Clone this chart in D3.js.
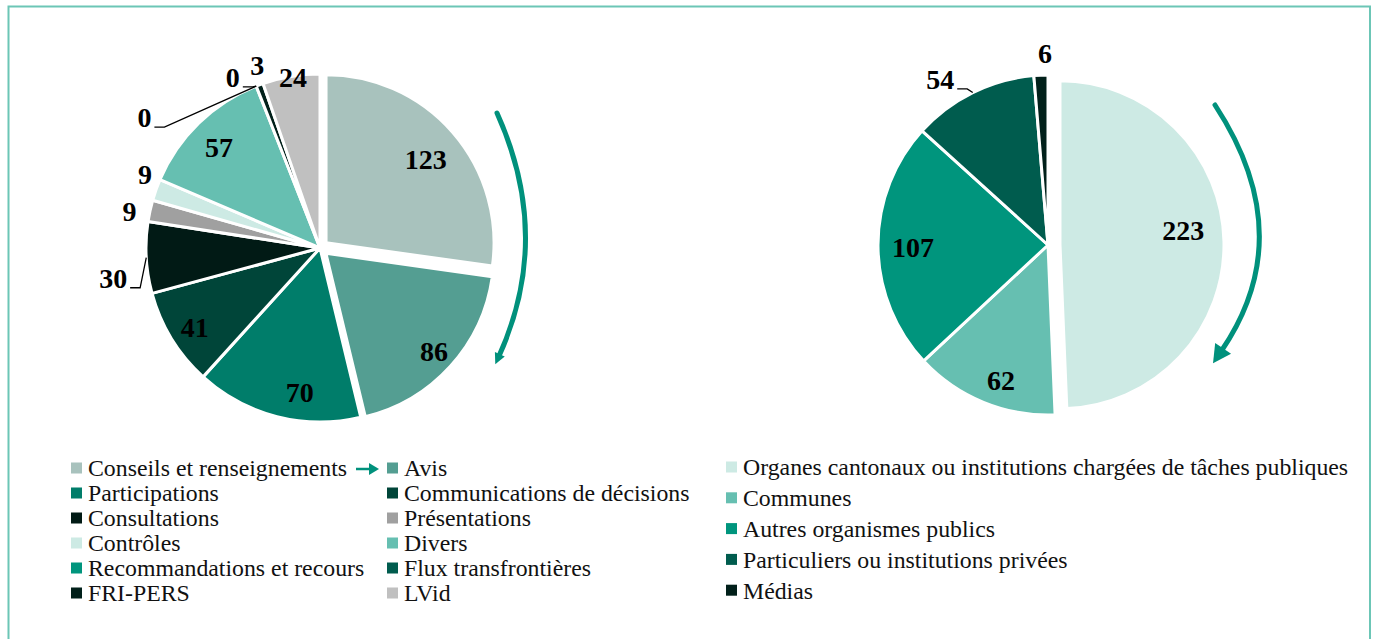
<!DOCTYPE html>
<html><head><meta charset="utf-8">
<script src="https://cdn.jsdelivr.net/npm/d3@7"></script>
<style>body{margin:0;background:#fff}svg{display:block}</style>
</head><body><svg id="c" width="1375" height="639"></svg>
<script>
// ---------- data ----------
const leftCategories = ["Conseils et renseignements","Avis","Participations","Communications de décisions","Consultations","Présentations","Contrôles","Divers","Recommandations et recours","Flux transfrontières","FRI-PERS","LVid"];
const leftValues = [123,86,70,41,30,9,9,57,0,0,3,24];
const leftColors = ["#a8c2bd","#549e92","#007d6a","#004539","#011a15","#a0a0a0","#cdeae4","#66bfb1","#00957d","#005c4e","#01201a","#c0c0c0"];

const rightCategories = ["Organes cantonaux ou institutions chargées de tâches publiques","Communes","Autres organismes publics","Particuliers ou institutions privées","Médias"];
const rightValues = [223,62,107,54,6];
const rightColors = ["#cdeae4","#66bfb1","#00957d","#005c4e","#01201a"];

// ---------- layout config ----------
const leftLabelPlace = [[1,138],[0,154],[-6.4,146],[-0.8,148],[-5,209],[-1.4,194],[3.4,190],[-0.8,143],[-31.8,219],[-5.5,192],[1.3,193],[0.6,173]];
const leftLeaders = [4,8,9];
const leftExplode = [8,8,0,0,0,0,0,0,0,0,0,0];
const rightLabelPlace = [[-5.1,136],[-3.1,143],[-0.4,135],[-6.7,198],[1.5,192]];
const rightLeaders = [3];
const rightExplode = [12,0,0,0,0];

const svg = d3.select("#c");
const serif = "'Times New Roman','Liberation Serif',serif";
const teal = "#00917c";

svg.append("rect").attr("x",8.5).attr("y",6.5).attr("width",1361.5).attr("height",700)
  .attr("fill","none").attr("stroke","#6cc6b6").attr("stroke-width",2);

function drawPie(cx, cy, r, rEx, values, colors, explode, place, leaders){
  const g = svg.append("g");
  const arcs = d3.pie().sort(null).value(d=>d)(values);
  const arc = d3.arc().innerRadius(0);
  arcs.forEach((d,i)=>{
    if (d.value === 0) return;
    const mid = (d.startAngle+d.endAngle)/2;
    const ex = explode[i];
    const ox = Math.sin(mid)*ex, oy = -Math.cos(mid)*ex;
    g.append("path").attr("d", arc.outerRadius(ex ? rEx : r)(d))
      .attr("transform", `translate(${cx+ox},${cy+oy})`)
      .attr("fill", colors[i]).attr("stroke","#fff").attr("stroke-width",3)
      .attr("stroke-linejoin","round");
  });
  arcs.forEach((d,i)=>{
    const mid = (d.startAngle+d.endAngle)/2;
    const a = mid + place[i][0]*Math.PI/180;
    const lx = cx + Math.sin(a)*place[i][1], ly = cy - Math.cos(a)*place[i][1];
    const t = g.append("text").attr("x",lx).attr("y",ly).attr("dy","0.35em")
      .attr("text-anchor","middle").attr("font-family",serif).attr("font-weight","bold")
      .attr("font-size",28).attr("fill","#000").text(d.value);
    if (leaders.includes(i)){
      const w = t.node().getComputedTextLength();
      const sx = lx + w/2 + 3, sy = ly + 10;
      const px = cx + Math.sin(mid)*r, py = cy - Math.cos(mid)*r;
      g.append("path").attr("d", `M${sx},${sy}L${sx+10},${sy}L${px},${py}`)
        .attr("fill","none").attr("stroke","#000").attr("stroke-width",1.3);
    }
  });
}

drawPie(320, 248, 174, 168, leftValues, leftColors, leftExplode, leftLabelPlace, leftLeaders);
drawPie(1048, 245, 170, 164, rightValues, rightColors, rightExplode, rightLabelPlace, rightLeaders);

// curved arrows
function curvedArrow(x0,y0,cxp,cyp,x1,y1,head){
  svg.append("path").attr("d", `M${x0},${y0}Q${cxp},${cyp} ${x1},${y1}`)
    .attr("fill","none").attr("stroke",teal).attr("stroke-width",5).attr("stroke-linecap","round");
  let dx = x1-cxp, dy = y1-cyp; const L = Math.hypot(dx,dy); dx/=L; dy/=L;
  const nx = -dy, ny = dx;
  const tx = x1+dx*head, ty = y1+dy*head;
  const bx = x1-dx*2, by = y1-dy*2;
  svg.append("path").attr("d", `M${tx},${ty}L${bx+nx*head*0.6},${by+ny*head*0.6}L${bx-nx*head*0.6},${by-ny*head*0.6}Z`)
    .attr("fill",teal);
}
curvedArrow(497,113,553,237,499,356,9);
curvedArrow(1215,105,1300,235,1222,350,16);

// legends
function legend(items, colors, x0, y0, colW, rowH, cols){
  const g = svg.append("g");
  items.forEach((name,i)=>{
    const c = i%cols, r = Math.floor(i/cols);
    const x = x0 + c*colW, y = y0 + r*rowH;
    g.append("rect").attr("x",x).attr("y",y-5.5).attr("width",11).attr("height",11).attr("fill",colors[i]);
    g.append("text").attr("x",x+17).attr("y",y).attr("dy","0.35em")
      .attr("font-family",serif).attr("font-size",23.8).attr("fill","#111").text(name);
  });
}
legend(leftCategories, leftColors, 71, 468, 316, 25, 2);
legend(rightCategories, rightColors, 726, 467, 0, 30.8, 1);

// small arrow in the legend
svg.append("path").attr("d","M356,469L370,469").attr("stroke",teal).attr("stroke-width",2.5);
svg.append("path").attr("d","M379,469L369,463L369,475Z").attr("fill",teal);
</script></body></html>
